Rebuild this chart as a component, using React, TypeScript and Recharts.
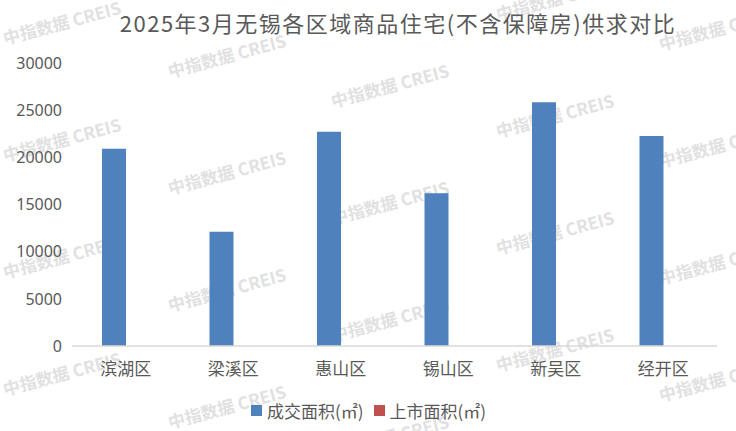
import { BarChart, Bar, XAxis, YAxis, Legend } from "recharts"

// 无锡各区域 2025年3月 商品住宅供求（㎡）
const districts = ["滨湖区", "梁溪区", "惠山区", "锡山区", "新吴区", "经开区"]
const dealArea = [20900, 12100, 22700, 16200, 25850, 22250]
const listedArea = [0, 0, 0, 0, 0, 0]
const yTicks = [0, 5000, 10000, 15000, 20000, 25000, 30000]

const seriesNames = ["成交面积(㎡)", "上市面积(㎡)"]
const seriesColors = ["#4f81bd", "#c0504d"]

const data = districts.map((name, i) => ({
  name,
  deal: dealArea[i],
  listed: listedArea[i],
}))

const CJK = '"Noto Sans CJK SC", "Noto Sans", sans-serif'
const TEXT = "#595959"

// watermark grid: column x, first-row baseline y
const wmCols = [5, 170, 333, 498, 661]
const wmBaseY = [45, 78, 108, 138, 168]
const wmRowStep = 117

function Watermark() {
  const marks: Array<{ x: number; y: number }> = []
  wmCols.forEach((x, c) => {
    for (let r = -1; r <= 3; r++) {
      const y = wmBaseY[c] + r * wmRowStep
      // skip rows that fall entirely outside the canvas
      if (y > 15 && y < 470) marks.push({ x, y })
    }
  })
  return (
    <svg
      width={736}
      height={431}
      style={{ position: "absolute", left: 0, top: 0 }}
    >
      {marks.map((m, i) => (
        <text
          key={i}
          x={m.x}
          y={m.y}
          transform={`rotate(-15 ${m.x} ${m.y})`}
          fontFamily={CJK}
          fontWeight={600}
          fontSize={17}
          fill="#e1e1e1"
        >
          中指数据 CREIS
        </text>
      ))}
    </svg>
  )
}

const renderLegend = () => (
  <div
    style={{
      display: "flex",
      justifyContent: "center",
      alignItems: "center",
      height: 30,
      gap: 10,
      marginLeft: 20,
      fontFamily: CJK,
      fontSize: 17,
      color: TEXT,
    }}
  >
    {seriesNames.map((name, i) => (
      <div key={name} style={{ display: "flex", alignItems: "center", gap: 5 }}>
        <span
          style={{
            display: "inline-block",
            width: 11,
            height: 11,
            background: seriesColors[i],
          }}
        />
        <span>{name}</span>
      </div>
    ))}
  </div>
)

export default function App() {
  return (
    <div
      style={{
        position: "absolute",
        left: 0,
        top: 0,
        width: 736,
        height: 431,
        background: "#fff",
        overflow: "hidden",
      }}
    >
      <Watermark />

      {/* Title */}
      <div
        style={{
          position: "absolute",
          top: 6,
          left: 0,
          width: 796,
          textAlign: "center",
          fontFamily: CJK,
          fontSize: 22,
          letterSpacing: 1.5,
          color: TEXT,
          lineHeight: "32px",
          zIndex: 2,
        }}
      >
        2025年3月无锡各区域商品住宅(不含保障房)供求对比
      </div>

      <div style={{ position: "absolute", left: 0, top: 0, zIndex: 1 }}>
        <BarChart
          width={736}
          height={431}
          data={data}
          margin={{ top: 63, right: 19, bottom: 6, left: 0 }}
          barSize={24}
          barGap={0}
        >
          <XAxis
            dataKey="name"
            height={49}
            tickLine={false}
            tickMargin={11}
            axisLine={{ stroke: "#d9d9d9", strokeWidth: 1.5 }}
            tick={{ fontSize: 17, fill: TEXT, fontFamily: CJK }}
            interval={0}
          />
          <YAxis
            width={72}
            domain={[0, 30000]}
            ticks={yTicks}
            axisLine={false}
            tickLine={false}
            tickMargin={4}
            tick={{ fontSize: 16, fill: TEXT, fontFamily: '"Noto Sans", sans-serif' }}
          />
          <Legend verticalAlign="bottom" content={renderLegend} />
          <Bar
            dataKey="deal"
            name={seriesNames[0]}
            fill={seriesColors[0]}
            isAnimationActive={false}
          />
          <Bar
            dataKey="listed"
            name={seriesNames[1]}
            fill={seriesColors[1]}
            isAnimationActive={false}
          />
        </BarChart>
      </div>
    </div>
  )
}
